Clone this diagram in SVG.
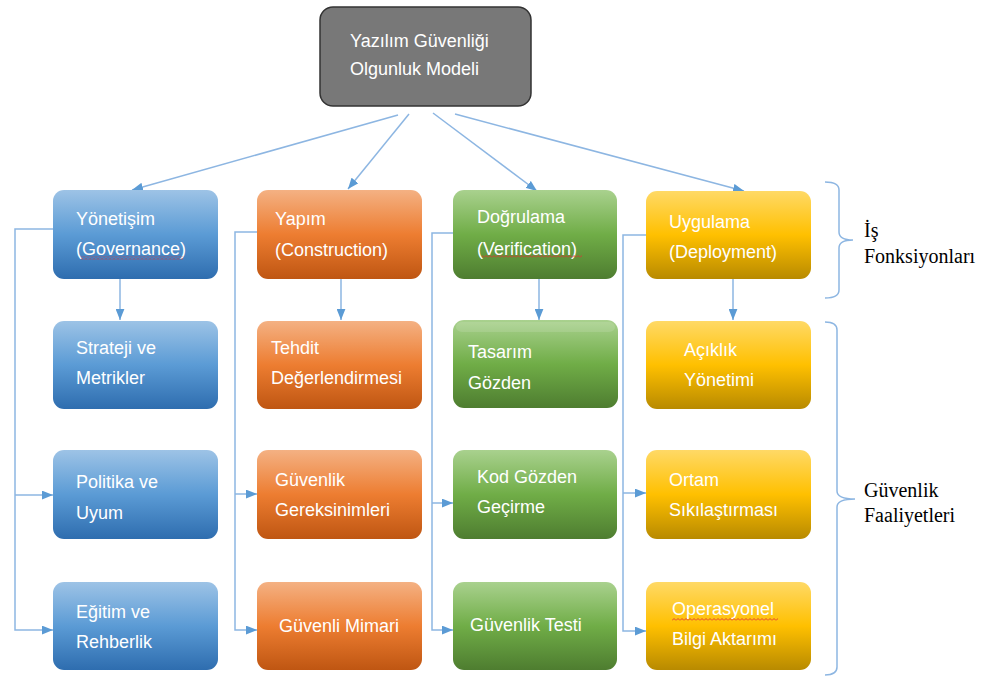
<svg xmlns="http://www.w3.org/2000/svg" width="985" height="680" viewBox="0 0 985 680">
  <defs>
    <linearGradient id="gBlue" x1="0" y1="0" x2="0" y2="1">
      <stop offset="0" stop-color="#9DC3E6"/>
      <stop offset="0.5" stop-color="#5B9BD5"/>
      <stop offset="1" stop-color="#2E6DAF"/>
    </linearGradient>
    <linearGradient id="gOrange" x1="0" y1="0" x2="0" y2="1">
      <stop offset="0" stop-color="#F4B183"/>
      <stop offset="0.5" stop-color="#ED7D31"/>
      <stop offset="1" stop-color="#BF5612"/>
    </linearGradient>
    <linearGradient id="gGreen" x1="0" y1="0" x2="0" y2="1">
      <stop offset="0" stop-color="#A9D18E"/>
      <stop offset="0.5" stop-color="#70AD47"/>
      <stop offset="1" stop-color="#4E7D30"/>
    </linearGradient>
    <linearGradient id="gYellow" x1="0" y1="0" x2="0" y2="1">
      <stop offset="0" stop-color="#FFD966"/>
      <stop offset="0.5" stop-color="#FFC000"/>
      <stop offset="1" stop-color="#B88A00"/>
    </linearGradient>
    <marker id="arrow" viewBox="0 0 10 8" refX="10" refY="4" markerWidth="11" markerHeight="9" markerUnits="userSpaceOnUse" orient="auto">
      <path d="M0,0 L10,4 L0,8 Z" fill="#5B9BD5"/>
    </marker>
    <pattern id="squiggle" width="4" height="3" patternUnits="userSpaceOnUse">
      <path d="M0,2.5 L2,0.5 L4,2.5" fill="none" stroke="#E03030" stroke-width="0.9"/>
    </pattern>
  </defs>
  <style>
    .box { stroke: none; }
    .blue { fill: url(#gBlue); }
    .orange { fill: url(#gOrange); }
    .green { fill: url(#gGreen); }
    .yellow { fill: url(#gYellow); }
    .lbl { font-family: "Liberation Sans", Arial, sans-serif; font-size: 18px; fill: #ffffff; }
    .side { font-family: "Liberation Serif", "Times New Roman", serif; font-size: 20px; fill: #000000; }
    .conn { fill: none; stroke: #8DB6E2; stroke-width: 1.5; }
    .brace { fill: none; stroke: #8DB6E2; stroke-width: 1.5; }
  </style>

  <rect width="985" height="680" fill="#ffffff"/>

  <!-- connectors -->
  <g id="connectors">
    <path class="conn" d="M398,115 L132,190" marker-end="url(#arrow)"/>
    <path class="conn" d="M409,114 L348,189" marker-end="url(#arrow)"/>
    <path class="conn" d="M433,113 L537,191" marker-end="url(#arrow)"/>
    <path class="conn" d="M455,114 L744,191" marker-end="url(#arrow)"/>

    <path class="conn" d="M120,279 V320" marker-end="url(#arrow)"/>
    <path class="conn" d="M341,279 V320" marker-end="url(#arrow)"/>
    <path class="conn" d="M539,279 V320" marker-end="url(#arrow)"/>
    <path class="conn" d="M733,279 V320" marker-end="url(#arrow)"/>

    <path class="conn" d="M53,229 H15 V630 H53" marker-end="url(#arrow)"/>
    <path class="conn" d="M15,495 H53" marker-end="url(#arrow)"/>
    <path class="conn" d="M257,232 H235 V630 H257" marker-end="url(#arrow)"/>
    <path class="conn" d="M235,494 H257" marker-end="url(#arrow)"/>
    <path class="conn" d="M453,233 H432 V630 H453" marker-end="url(#arrow)"/>
    <path class="conn" d="M432,503 H453" marker-end="url(#arrow)"/>
    <path class="conn" d="M646,235 H623 V631 H646" marker-end="url(#arrow)"/>
    <path class="conn" d="M623,493 H646" marker-end="url(#arrow)"/>
  </g>

  <!-- root -->
  <g id="root">
    <rect x="320" y="7" width="211" height="99" rx="13" fill="#787878" stroke="#333333" stroke-width="1.5"/>
    <text class="lbl" x="350" y="47" fill="#f2f2f2">Yazılım Güvenliği</text>
    <text class="lbl" x="350" y="75" fill="#f2f2f2">Olgunluk Modeli</text>
  </g>

  <!-- governance column -->
  <g id="governance">
    <rect class="box blue" x="53" y="190" width="165" height="89" rx="11"/>
    <text class="lbl" x="76" y="225">Yönetişim</text>
    <text class="lbl" x="76" y="255">(Governance)</text>
    <rect x="81" y="256.5" width="102" height="3" fill="url(#squiggle)"/>
  </g>
  <g id="strategy-metrics">
    <rect class="box blue" x="53" y="321" width="165" height="88" rx="11"/>
    <text class="lbl" x="76" y="354">Strateji ve</text>
    <text class="lbl" x="76" y="384">Metrikler</text>
  </g>
  <g id="policy-compliance">
    <rect class="box blue" x="53" y="450" width="165" height="89" rx="11"/>
    <text class="lbl" x="76" y="488">Politika ve</text>
    <text class="lbl" x="76" y="519">Uyum</text>
  </g>
  <g id="education-guidance">
    <rect class="box blue" x="53" y="582" width="165" height="88" rx="11"/>
    <text class="lbl" x="76" y="618">Eğitim ve</text>
    <text class="lbl" x="76" y="648">Rehberlik</text>
  </g>

  <!-- construction column -->
  <g id="construction">
    <rect class="box orange" x="257" y="190" width="165" height="89" rx="11"/>
    <text class="lbl" x="275" y="225">Yapım</text>
    <text class="lbl" x="275" y="256">(Construction)</text>
  </g>
  <g id="threat-assessment">
    <rect class="box orange" x="257" y="321" width="165" height="88" rx="11"/>
    <text class="lbl" x="271" y="354">Tehdit</text>
    <text class="lbl" x="271" y="384">Değerlendirmesi</text>
  </g>
  <g id="security-requirements">
    <rect class="box orange" x="257" y="450" width="165" height="89" rx="11"/>
    <text class="lbl" x="275" y="486">Güvenlik</text>
    <text class="lbl" x="275" y="516">Gereksinimleri</text>
  </g>
  <g id="secure-architecture">
    <rect class="box orange" x="257" y="582" width="165" height="88" rx="11"/>
    <text class="lbl" x="279" y="632">Güvenli Mimari</text>
  </g>

  <!-- verification column -->
  <g id="verification">
    <rect class="box green" x="453" y="190" width="164" height="89" rx="11"/>
    <text class="lbl" x="477" y="223">Doğrulama</text>
    <text class="lbl" x="477" y="255">(Verification)</text>
    <rect x="482" y="255" width="100" height="3" fill="url(#squiggle)"/>
  </g>
  <g id="design-review">
    <rect class="box green" x="453" y="320" width="165" height="88" rx="11"/>
    <rect x="456" y="322" width="159" height="10" rx="6" fill="#ffffff" opacity="0.12"/>
    <text class="lbl" x="468" y="358">Tasarım</text>
    <text class="lbl" x="468" y="389">Gözden</text>
  </g>
  <g id="code-review">
    <rect class="box green" x="453" y="450" width="164" height="89" rx="11"/>
    <text class="lbl" x="477" y="483">Kod Gözden</text>
    <text class="lbl" x="477" y="513">Geçirme</text>
  </g>
  <g id="security-testing">
    <rect class="box green" x="453" y="582" width="164" height="88" rx="11"/>
    <text class="lbl" x="470" y="631">Güvenlik Testi</text>
  </g>

  <!-- deployment column -->
  <g id="deployment">
    <rect class="box yellow" x="646" y="191" width="165" height="88" rx="11"/>
    <text class="lbl" x="669" y="228">Uygulama</text>
    <text class="lbl" x="669" y="258">(Deployment)</text>
  </g>
  <g id="vulnerability-management">
    <rect class="box yellow" x="646" y="321" width="165" height="88" rx="11"/>
    <text class="lbl" x="684" y="356">Açıklık</text>
    <text class="lbl" x="684" y="386">Yönetimi</text>
  </g>
  <g id="environment-hardening">
    <rect class="box yellow" x="646" y="450" width="165" height="89" rx="11"/>
    <text class="lbl" x="669" y="486">Ortam</text>
    <text class="lbl" x="669" y="516">Sıkılaştırması</text>
  </g>
  <g id="operational-enablement">
    <rect class="box yellow" x="646" y="582" width="165" height="88" rx="11"/>
    <text class="lbl" x="672" y="615">Operasyonel</text>
    <rect x="672" y="618" width="106" height="3" fill="url(#squiggle)"/>
    <text class="lbl" x="672" y="645">Bilgi Aktarımı</text>
  </g>

  <!-- braces and side labels -->
  <g id="business-functions">
    <path class="brace" d="M825,182 Q839,182 839,190 V232 Q839,240 853,240 Q839,240 839,248 V290 Q839,298 825,298"/>
    <text class="side" x="864" y="237">İş</text>
    <text class="side" x="864" y="263">Fonksiyonları</text>
  </g>
  <g id="security-practices">
    <path class="brace" d="M825,322 Q837,322 837,330 V491 Q837,499 855,499 Q837,499 837,507 V667 Q837,675 825,675"/>
    <text class="side" x="864" y="497">Güvenlik</text>
    <text class="side" x="864" y="522">Faaliyetleri</text>
  </g>
</svg>
